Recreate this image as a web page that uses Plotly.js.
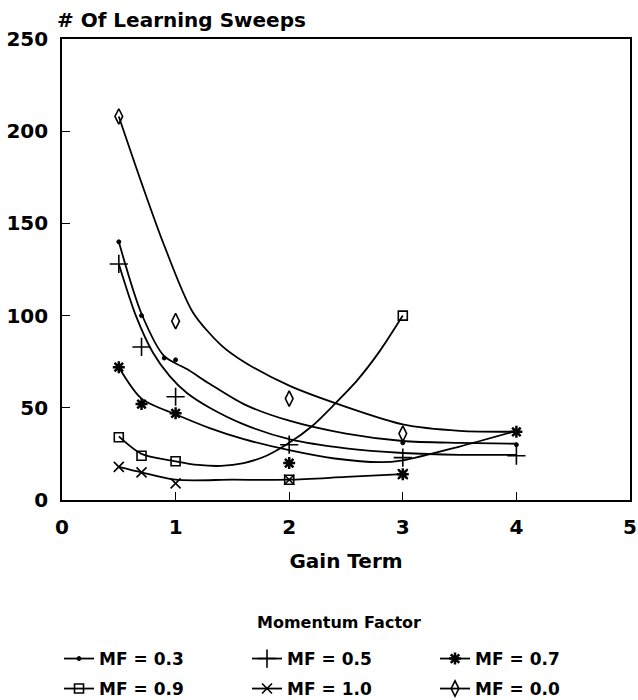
<!DOCTYPE html>
<html>
<head>
<meta charset="utf-8">
<script src="https://cdn.plot.ly/plotly-3.0.1.min.js"></script>
<style>html,body{margin:0;padding:0;background:#fff;}#chart{width:638px;height:700px;}</style>
</head>
<body>
<div id="chart"></div>
<script>
// Measured points (gain term, # of learning sweeps)
const gain_mf03 = [0.5, 0.7, 0.9, 1.0, 3, 4];
const sweeps_mf03 = [140, 100, 77, 76, 31, 30];
const gain_mf05 = [0.5, 0.7, 1, 2, 3, 4];
const sweeps_mf05 = [128, 83, 56, 30, 23, 24];
const gain_mf07 = [0.5, 0.7, 1, 2, 3, 4];
const sweeps_mf07 = [72, 52, 47, 20, 14, 37];
const gain_mf09 = [0.5, 0.7, 1, 2, 3];
const sweeps_mf09 = [34, 24, 21, 11, 100];
const gain_mf10 = [0.5, 0.7, 1, 2, 3];
const sweeps_mf10 = [18, 15, 9, 11, 14];
const gain_mf00 = [0.5, 1, 2, 3];
const sweeps_mf00 = [208, 97, 55, 36];

// Fitted curves as drawn in the figure
const fit_mf03_x = [0.5, 0.7, 0.9, 1.1, 1.3, 1.6, 2, 2.5, 3, 3.5, 4];
const fit_mf03_y = [140, 101, 78, 71, 63, 52, 43, 36, 32, 31, 30.5];
const fit_mf05_x = [0.5, 0.65, 0.8, 0.95, 1.1, 1.3, 1.6, 2, 2.5, 3, 3.5, 4];
const fit_mf05_y = [128, 100, 80, 67, 58, 50, 41, 33, 28, 25.5, 24.5, 24.5];
const fit_mf07_x = [0.5, 0.7, 1, 1.3, 1.6, 2, 2.4, 2.8, 3, 3.5, 4];
const fit_mf07_y = [72, 55, 46.5, 39, 33, 27, 22.5, 20.5, 21.5, 29, 37.5];
const fit_mf09_x = [0.5, 0.7, 1, 1.2, 1.4, 1.6, 1.8, 2, 2.2, 2.4, 2.6, 2.8, 3];
const fit_mf09_y = [34.5, 25, 21, 19, 18.5, 20, 24, 31, 40, 52, 65, 81, 100];
const fit_mf10_x = [0.5, 0.7, 1, 1.5, 2, 2.5, 3];
const fit_mf10_y = [18, 15, 11, 11, 11, 12.5, 14];
const fit_mf00_x = [0.5, 0.7, 0.9, 1.15, 1.4, 1.6, 2, 2.5, 3, 3.5, 4];
const fit_mf00_y = [208, 172, 138, 102, 84, 75, 62, 50.5, 41, 37.5, 37];

const seriesNames = ["MF = 0.3", "MF = 0.5", "MF = 0.7", "MF = 0.9", "MF = 1.0", "MF = 0.0"];
const xTicks = [0, 1, 2, 3, 4, 5];
const yTicks = [0, 50, 100, 150, 200, 250];

const FONT = "DejaVu Sans, Liberation Sans, sans-serif";
const series = [
  {name: seriesNames[0], px: gain_mf03, py: sweeps_mf03, fx: fit_mf03_x, fy: fit_mf03_y, sym: "circle", size: 4, lw: 1, leg: "legend"},
  {name: seriesNames[1], px: gain_mf05, py: sweeps_mf05, fx: fit_mf05_x, fy: fit_mf05_y, sym: "cross-thin", size: 13, lw: 1.6, leg: "legend"},
  {name: seriesNames[2], px: gain_mf07, py: sweeps_mf07, fx: fit_mf07_x, fy: fit_mf07_y, sym: "asterisk", size: 10, lw: 2.5, leg: "legend"},
  {name: seriesNames[3], px: gain_mf09, py: sweeps_mf09, fx: fit_mf09_x, fy: fit_mf09_y, sym: "square-open", size: 9, lw: 1.6, leg: "legend2"},
  {name: seriesNames[4], px: gain_mf10, py: sweeps_mf10, fx: fit_mf10_x, fy: fit_mf10_y, sym: "x-thin", size: 10, lw: 1.6, leg: "legend2"},
  {name: seriesNames[5], px: gain_mf00, py: sweeps_mf00, fx: fit_mf00_x, fy: fit_mf00_y, sym: "diamond-tall-open", size: 11, lw: 1.6, leg: "legend2"}
];

const traces = [];
series.forEach(s => {
  traces.push({x: s.fx, y: s.fy, mode: "lines", type: "scatter", showlegend: false, hoverinfo: "skip",
    line: {color: "#000", width: 1.8, shape: "spline", smoothing: 0.8}});
  traces.push({x: s.px, y: s.py, mode: "markers", type: "scatter", showlegend: false, name: s.name,
    marker: {symbol: s.sym, size: s.size, color: "#000", line: {color: "#000", width: s.lw}}});
});
series.forEach(s => {
  traces.push({x: [null], y: [null], mode: "lines+markers", type: "scatter", name: s.name, showlegend: true, legend: s.leg,
    line: {color: "#000", width: 1.8},
    marker: {symbol: s.sym, size: s.size, color: "#000", line: {color: "#000", width: s.lw}}});
});

const legendCommon = {orientation: "h", xref: "container", yref: "container", x: 0.0925, xanchor: "left", yanchor: "middle",
  entrywidth: 143, entrywidthmode: "pixels", traceorder: "normal",
  font: {family: FONT, size: 17, weight: "bold", color: "#000"}, bgcolor: "rgba(0,0,0,0)"};

const layout = {
  width: 638, height: 700,
  margin: {l: 62, r: 8, t: 38.5, b: 200},
  paper_bgcolor: "#fff", plot_bgcolor: "#fff",
  font: {family: FONT, color: "#000"},
  title: {text: "# Of Learning Sweeps", x: 0.0893, xanchor: "left", xref: "container",
    y: 1 - 20 / 700, yanchor: "middle", yref: "container",
    font: {family: FONT, size: 20, weight: "bold", color: "#000"}},
  xaxis: {range: [0, 5], tickvals: xTicks, ticktext: xTicks.map(String),
    showgrid: false, zeroline: false, showline: true, linecolor: "#000", linewidth: 1.8, mirror: true,
    ticks: "inside", ticklen: 8, tickwidth: 1.3, tickcolor: "#000", ticklabelstandoff: 8,
    tickfont: {family: FONT, size: 20, weight: "bold", color: "#000"},
    title: {text: "Gain Term", standoff: 16, font: {family: FONT, size: 20, weight: "bold", color: "#000"}}},
  yaxis: {range: [0, 250], tickvals: yTicks, ticktext: yTicks.map(String),
    showgrid: false, zeroline: false, showline: true, linecolor: "#000", linewidth: 1.8, mirror: true,
    ticks: "inside", ticklen: 8, tickwidth: 1.3, tickcolor: "#000", ticklabelstandoff: 8,
    tickfont: {family: FONT, size: 20, weight: "bold", color: "#000"}},
  showlegend: true,
  legend: Object.assign({}, legendCommon, {y: 1 - 659 / 700}),
  legend2: Object.assign({}, legendCommon, {y: 1 - 689 / 700}),
  annotations: [{text: "Momentum Factor", xref: "paper", yref: "paper", x: (339 - 62) / 568, y: (500 - 623) / 461.5,
    xanchor: "center", yanchor: "middle", showarrow: false,
    font: {family: FONT, size: 16, weight: "bold", color: "#000"}}]
};

Plotly.newPlot("chart", traces, layout, {staticPlot: true, displayModeBar: false});
</script>
</body>
</html>
